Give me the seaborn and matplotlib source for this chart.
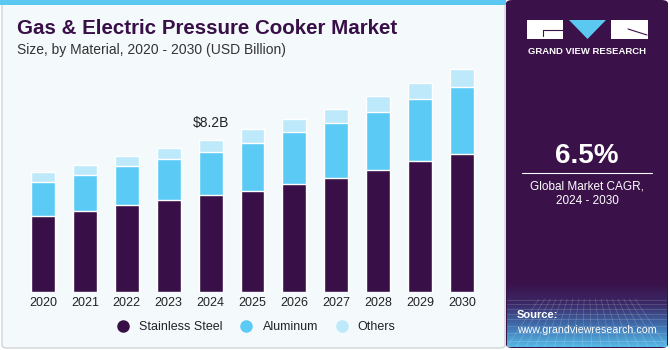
import numpy as np
import pandas as pd
import seaborn as sns
import matplotlib.pyplot as plt
from matplotlib.patches import FancyBboxPatch, Rectangle, Polygon
from matplotlib.colors import LinearSegmentedColormap

years = ['2020', '2021', '2022', '2023', '2024', '2025', '2026', '2027', '2028', '2029', '2030']
stainless = [4.10, 4.37, 4.69, 4.95, 5.23, 5.45, 5.81, 6.12, 6.55, 7.03, 7.44]
aluminum = [1.83, 1.94, 2.09, 2.21, 2.32, 2.59, 2.82, 2.98, 3.16, 3.38, 3.61]
others = [0.51, 0.54, 0.56, 0.59, 0.63, 0.72, 0.67, 0.77, 0.85, 0.83, 0.94]
materials = ['Stainless Steel', 'Aluminum', 'Others']
colors = ['#381047', '#5BCBF5', '#BDE9FA']

df = pd.DataFrame({'year': years, 'Stainless Steel': stainless,
                   'Aluminum': aluminum, 'Others': others})
df['ss_alu'] = df['Stainless Steel'] + df['Aluminum']
df['total'] = df['ss_alu'] + df['Others']

sns.set_style('white')
plt.rcParams['font.family'] = ['Liberation Sans', 'DejaVu Sans']

W, H = 670, 350
fig = plt.figure(figsize=(6.7, 3.5), dpi=100)
fig.patch.set_facecolor('white')

def fx(x):
    return x / W

def fy(y):
    return 1 - y / H

# left panel background + top stripe
fig.patches.append(FancyBboxPatch((fx(2), fy(348)), fx(503), (346 / H),
                                  boxstyle='round,pad=0,rounding_size=0.008',
                                  transform=fig.transFigure, fc='#F4F9FC',
                                  ec='#D0D4D8', lw=1, zorder=-3))
fig.patches.append(Rectangle((fx(0), fy(5)), fx(506), 5 / H,
                             transform=fig.transFigure, fc='#5BC8F2', ec='none', zorder=-2))

# right panel
fig.patches.append(FancyBboxPatch((fx(506), fy(348)), fx(162), 348 / H,
                                  boxstyle='round,pad=0,rounding_size=0.01',
                                  transform=fig.transFigure, fc='#3A1149',
                                  ec='none', zorder=-3))

# gradient at the bottom of right panel
gax = fig.add_axes([fx(507), fy(347), fx(160), (347 - 283) / H])
gax.set_zorder(-1)
grad = np.linspace(0, 1, 100).reshape(-1, 1)
cmap = LinearSegmentedColormap.from_list('g', ['#56B8E6', '#3F6FAE', '#3B2A68', '#3A1149'])
gax.imshow(grad, aspect='auto', cmap=cmap, origin='lower', extent=[0, 1, 0, 1])
for v in np.linspace(0, 1, 18):
    gax.plot([v, 0.5 + (v - 0.5) * 0.6], [0, 0.75], color='white', lw=0.4, alpha=0.25)
for h in [0.1, 0.22, 0.33, 0.43, 0.52, 0.6, 0.67, 0.73]:
    gax.axhline(h, color='white', lw=0.4, alpha=0.25)
gax.set_xlim(0, 1)
gax.set_ylim(0, 1)
gax.axis('off')

# logo
fig.patches.append(Rectangle((fx(527), fy(39)), fx(36), 19 / H,
                             transform=fig.transFigure, fc='white', ec='none', zorder=2))
fig.patches.append(Rectangle((fx(611), fy(39)), fx(37), 19 / H,
                             transform=fig.transFigure, fc='white', ec='none', zorder=2))
fig.patches.append(Polygon([(fx(569), fy(20)), (fx(606), fy(20)), (fx(587.5), fy(39))],
                           closed=True, transform=fig.transFigure, fc='#5BC8F2',
                           ec='none', zorder=2))
fig.lines.append(plt.Line2D([fx(543), fx(563)], [fy(30), fy(30)], transform=fig.transFigure,
                            color='#3A1149', lw=0.8, zorder=3))
fig.lines.append(plt.Line2D([fx(543), fx(543)], [fy(30), fy(36)], transform=fig.transFigure,
                            color='#3A1149', lw=0.8, zorder=3))
fig.lines.append(plt.Line2D([fx(628), fx(647)], [fy(29), fy(35)], transform=fig.transFigure,
                            color='#3A1149', lw=0.8, zorder=3))
fig.text(fx(587), fy(51), 'GRAND VIEW RESEARCH', color='white', fontsize=6.8,
         fontweight='bold', ha='center', va='center')

fig.text(fx(587), fy(156), '6.5%', color='white', fontsize=20, fontweight='bold',
         ha='center', va='center')
fig.lines.append(plt.Line2D([fx(522), fx(652)], [fy(173), fy(173)], transform=fig.transFigure,
                            color='white', lw=0.8))
fig.text(fx(587), fy(186), 'Global Market CAGR,', color='white', fontsize=8.5,
         ha='center', va='center')
fig.text(fx(587), fy(201), '2024 - 2030', color='white', fontsize=8.5,
         ha='center', va='center')
fig.text(fx(517), fy(315), 'Source:', color='white', fontsize=8, fontweight='bold',
         ha='left', va='center')
fig.text(fx(517), fy(330), 'www.grandviewresearch.com', color='white', fontsize=7.7,
         ha='left', va='center')

# titles
fig.text(fx(17), fy(28), 'Gas & Electric Pressure Cooker Market', color='#381047',
         fontsize=14.8, fontweight='bold', ha='left', va='center')
fig.text(fx(17), fy(50), 'Size, by Material, 2020 - 2030 (USD Billion)', color='#333333',
         fontsize=10, ha='left', va='center')

# bars
ax = fig.add_axes([fx(22), fy(291.7), fx(461), (291.7 - 60) / H])
ax.set_zorder(2)
ax.set_facecolor('none')
sns.barplot(data=df, x='year', y='total', color=colors[2], width=0.57,
            saturation=1, ax=ax)
sns.barplot(data=df, x='year', y='ss_alu', color=colors[1], width=0.57,
            saturation=1, ax=ax)
sns.barplot(data=df, x='year', y='Stainless Steel', color=colors[0], width=0.57,
            saturation=1, ax=ax)
ax.set_xlim(-0.5, len(years) - 0.5)
ax.set_ylim(0, 12.5)
ax.set_xlabel('')
ax.set_ylabel('')
ax.set_yticks([])
ax.tick_params(axis='x', length=0, labelsize=9, colors='#222222', pad=4)
sns.despine(ax=ax, left=True, bottom=True)

i24 = years.index('2024')
ax.text(i24, df['total'][i24] + 0.55, '$8.2B', ha='center', va='bottom',
        fontsize=10, color='#222222')

# legend
handles = [plt.Line2D([], [], marker='o', ls='', markersize=8, color=c) for c in colors]
fig.legend(handles, materials, loc='center', bbox_to_anchor=(fx(253), fy(327)),
           ncol=3, frameon=False, fontsize=9, handletextpad=0.3, columnspacing=0.9,
           labelcolor='#222222')

fig.savefig('out.png', dpi=100)
